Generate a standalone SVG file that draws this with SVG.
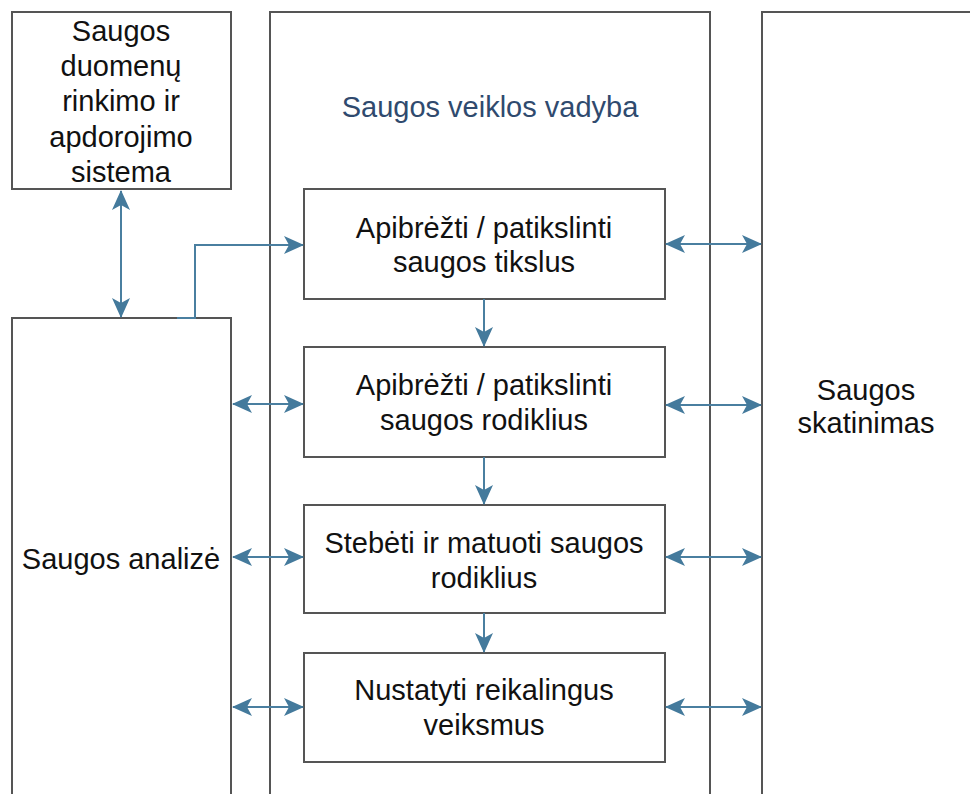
<svg xmlns="http://www.w3.org/2000/svg" width="970" height="794" viewBox="0 0 970 794">
<defs>
<style>
.box{fill:#fff;stroke:#555;stroke-width:2}
.t{font-family:"Liberation Sans",Arial,sans-serif;font-size:29px;fill:#111;text-anchor:middle}
.h{fill:#2f4a6e}
.c{fill:none;stroke:#4a7fa0;stroke-width:2}
</style>
<marker id="a" viewBox="0 0 20 18" markerUnits="userSpaceOnUse" markerWidth="20" markerHeight="18" refX="19" refY="9" orient="auto-start-reverse">
<path d="M0,0 L20,9 L0,18 L5,9 Z" fill="#447a9c"/>
</marker>
</defs>
<rect width="970" height="794" fill="#fff"/>
<g id="data">
<rect class="box" x="12" y="12" width="219" height="177"/>
<text class="t" x="121" y="41">Saugos</text>
<text class="t" x="121" y="76">duomenų</text>
<text class="t" x="121" y="111">rinkimo ir</text>
<text class="t" x="121" y="147">apdorojimo</text>
<text class="t" x="121" y="182">sistema</text>
</g>
<g id="analize">
<rect class="box" x="12" y="318" width="219" height="490"/>
<text class="t" x="121" y="569">Saugos analizė</text>
</g>
<g id="vadyba">
<rect class="box" x="270" y="12" width="440" height="796"/>
<text class="t h" x="490" y="117">Saugos veiklos vadyba</text>
</g>
<g id="skatinimas">
<rect class="box" x="762" y="12" width="220" height="796"/>
<text class="t" x="866" y="400">Saugos</text>
<text class="t" x="866" y="433">skatinimas</text>
</g>
<g id="tikslai">
<rect class="box" x="304" y="189" width="361" height="110"/>
<text class="t" x="484" y="238">Apibrėžti / patikslinti</text>
<text class="t" x="484" y="272">saugos tikslus</text>
</g>
<g id="rodikliai">
<rect class="box" x="304" y="347" width="361" height="110"/>
<text class="t" x="484" y="395">Apibrėžti / patikslinti</text>
<text class="t" x="484" y="430">saugos rodiklius</text>
</g>
<g id="stebeti">
<rect class="box" x="304" y="505" width="361" height="108"/>
<text class="t" x="484" y="553">Stebėti ir matuoti saugos</text>
<text class="t" x="484" y="588">rodiklius</text>
</g>
<g id="veiksmai">
<rect class="box" x="304" y="653" width="361" height="109"/>
<text class="t" x="484" y="700">Nustatyti reikalingus</text>
<text class="t" x="484" y="735">veiksmus</text>
</g>
<g id="connectors">
<path class="c" d="M121,191 V317" marker-start="url(#a)" marker-end="url(#a)"/>
<path class="c" d="M177,318 H195 V245 H303" marker-end="url(#a)"/>
<path class="c" d="M484,299 V346" marker-end="url(#a)"/>
<path class="c" d="M484,457 V504" marker-end="url(#a)"/>
<path class="c" d="M484,613 V652" marker-end="url(#a)"/>
<path class="c" d="M233,404 H303" marker-start="url(#a)" marker-end="url(#a)"/>
<path class="c" d="M233,557 H303" marker-start="url(#a)" marker-end="url(#a)"/>
<path class="c" d="M233,707 H303" marker-start="url(#a)" marker-end="url(#a)"/>
<path class="c" d="M666,244 H761" marker-start="url(#a)" marker-end="url(#a)"/>
<path class="c" d="M666,405 H761" marker-start="url(#a)" marker-end="url(#a)"/>
<path class="c" d="M666,557 H761" marker-start="url(#a)" marker-end="url(#a)"/>
<path class="c" d="M666,707 H761" marker-start="url(#a)" marker-end="url(#a)"/>
</g>
</svg>
